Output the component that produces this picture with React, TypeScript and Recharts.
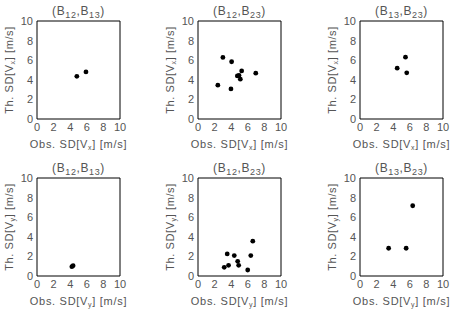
import { ScatterChart, Scatter, XAxis, YAxis } from 'recharts';

type Pt = { obs: number; th: number };

// observed vs theoretical SD of Vx, one list per pair
const vxB12B13: Pt[] = [
  { obs: 4.8, th: 4.35 },
  { obs: 5.9, th: 4.8 },
];
const vxB12B23: Pt[] = [
  { obs: 3.0, th: 6.28 },
  { obs: 4.05, th: 5.84 },
  { obs: 2.39, th: 3.45 },
  { obs: 3.97, th: 3.07 },
  { obs: 4.74, th: 4.4 },
  { obs: 4.94, th: 4.44 },
  { obs: 5.26, th: 4.91 },
  { obs: 5.1, th: 4.06 },
  { obs: 6.96, th: 4.68 },
];
const vxB13B23: Pt[] = [
  { obs: 4.48, th: 5.19 },
  { obs: 5.48, th: 6.31 },
  { obs: 5.63, th: 4.71 },
];

// same for Vy
const vyB12B13: Pt[] = [
  { obs: 4.2, th: 0.95 },
  { obs: 4.35, th: 1.05 },
];
const vyB12B23: Pt[] = [
  { obs: 3.16, th: 0.89 },
  { obs: 3.52, th: 2.25 },
  { obs: 3.68, th: 1.09 },
  { obs: 4.37, th: 2.08 },
  { obs: 4.78, th: 1.5 },
  { obs: 4.9, th: 1.09 },
  { obs: 5.99, th: 0.61 },
  { obs: 6.36, th: 2.08 },
  { obs: 6.6, th: 3.55 },
];
const vyB13B23: Pt[] = [
  { obs: 3.45, th: 2.83 },
  { obs: 5.56, th: 2.83 },
  { obs: 6.35, th: 7.17 },
];

const MAJOR = [0, 2, 4, 6, 8, 10];
const MINOR = [
  0, 0.5, 1, 1.5, 2, 2.5, 3, 3.5, 4, 4.5, 5, 5.5, 6, 6.5, 7, 7.5, 8, 8.5, 9, 9.5, 10,
];

const FONT = '"Liberation Sans", Arial, sans-serif';
const TEXT = '#555';
const W = 150;
const H = 155;
// plot box offsets inside each panel; the labelled axes take 1px each
const M = { top: 21, right: 30, bottom: 35, left: 36 };
const PW = W - M.left - M.right - 1;
const PH = H - M.top - M.bottom - 1;
const PL = M.left + 1;

const common = { type: 'number' as const, domain: [0, 10], allowDataOverflow: true };
const line = { stroke: '#000', strokeWidth: 1 };
const tickText = { fill: TEXT, fontSize: 11, fontFamily: FONT };

function Panel(props: {
  left: number;
  top: number;
  data: Pt[];
  pair: [string, string];
  comp: string;
}) {
  const { left, top, data, pair, comp } = props;
  const cx = PL + PW / 2;
  const cy = M.top + PH / 2;
  return (
    <div style={{ position: 'absolute', left, top, width: W, height: H }}>
      <ScatterChart width={W} height={H} margin={M}>
        {/* labelled bottom/left axes */}
        <XAxis
          xAxisId="x"
          dataKey="obs"
          {...common}
          ticks={MAJOR}
          height={1}
          axisLine={false}
          tickLine={false}
          tickSize={2}
          tickMargin={2}
          tick={tickText}
        />
        <YAxis
          yAxisId="y"
          dataKey="th"
          {...common}
          ticks={MAJOR}
          width={1}
          axisLine={false}
          tickLine={false}
          tickSize={2}
          tickMargin={2}
          tick={tickText}
        />
        {/* box with inward major / minor ticks on all four sides */}
        <XAxis xAxisId="bM" {...common} ticks={MAJOR} height={1} mirror axisLine={line} tickLine={line} tickSize={4} tick={false} />
        <XAxis xAxisId="bm" {...common} ticks={MINOR} height={1} mirror axisLine={false} tickLine={line} tickSize={2} tick={false} />
        <XAxis xAxisId="tM" orientation="top" {...common} ticks={MAJOR} height={1} mirror axisLine={line} tickLine={line} tickSize={4} tick={false} />
        <XAxis xAxisId="tm" orientation="top" {...common} ticks={MINOR} height={1} mirror axisLine={false} tickLine={line} tickSize={2} tick={false} />
        <YAxis yAxisId="lM" {...common} ticks={MAJOR} width={1} mirror axisLine={line} tickLine={line} tickSize={4} tick={false} />
        <YAxis yAxisId="lm" {...common} ticks={MINOR} width={1} mirror axisLine={false} tickLine={line} tickSize={2} tick={false} />
        <YAxis yAxisId="rM" orientation="right" {...common} ticks={MAJOR} width={1} mirror axisLine={line} tickLine={line} tickSize={4} tick={false} />
        <YAxis yAxisId="rm" orientation="right" {...common} ticks={MINOR} width={1} mirror axisLine={false} tickLine={line} tickSize={2} tick={false} />
        <Scatter
          data={data}
          xAxisId="x"
          yAxisId="y"
          isAnimationActive={false}
          shape={(p: any) => <circle cx={p.cx} cy={p.cy} r={2.4} fill="#000" />}
        />
      </ScatterChart>
      <svg
        width={W}
        height={H}
        style={{ position: 'absolute', left: 0, top: 0, pointerEvents: 'none' }}
        fontFamily={FONT}
        fill={TEXT}
      >
        <text x={cx} y={M.top - 6} textAnchor="middle" fontSize={12} letterSpacing={0.6}>
          (B<tspan dy={3} fontSize={9}>{pair[0]}</tspan>
          <tspan dy={-3}>,B</tspan>
          <tspan dy={3} fontSize={9}>{pair[1]}</tspan>
          <tspan dy={-3}>)</tspan>
        </text>
        <text x={cx} y={M.top + PH + 29} textAnchor="middle" fontSize={11} letterSpacing={0.7}>
          Obs. SD[V<tspan dy={2} fontSize={7}>{comp}</tspan>
          <tspan dy={-2}>] [m/s]</tspan>
        </text>
        <text
          transform={`translate(${PL - 24}, ${cy}) rotate(-90)`}
          textAnchor="middle"
          fontSize={11}
          letterSpacing={0.6}
        >
          Th. SD[V<tspan dy={2} fontSize={7}>{comp}</tspan>
          <tspan dy={-2}>] [m/s]</tspan>
        </text>
      </svg>
    </div>
  );
}

export default function App() {
  return (
    <div
      style={{
        position: 'absolute',
        left: 0,
        top: 0,
        width: 450,
        height: 310,
        overflow: 'hidden',
        background: '#fff',
      }}
    >
      <Panel left={0} top={0} data={vxB12B13} pair={['12', '13']} comp="x" />
      <Panel left={161} top={0} data={vxB12B23} pair={['12', '23']} comp="x" />
      <Panel left={323} top={0} data={vxB13B23} pair={['13', '23']} comp="x" />
      <Panel left={0} top={157} data={vyB12B13} pair={['12', '13']} comp="y" />
      <Panel left={161} top={157} data={vyB12B23} pair={['12', '23']} comp="y" />
      <Panel left={323} top={157} data={vyB13B23} pair={['13', '23']} comp="y" />
    </div>
  );
}
